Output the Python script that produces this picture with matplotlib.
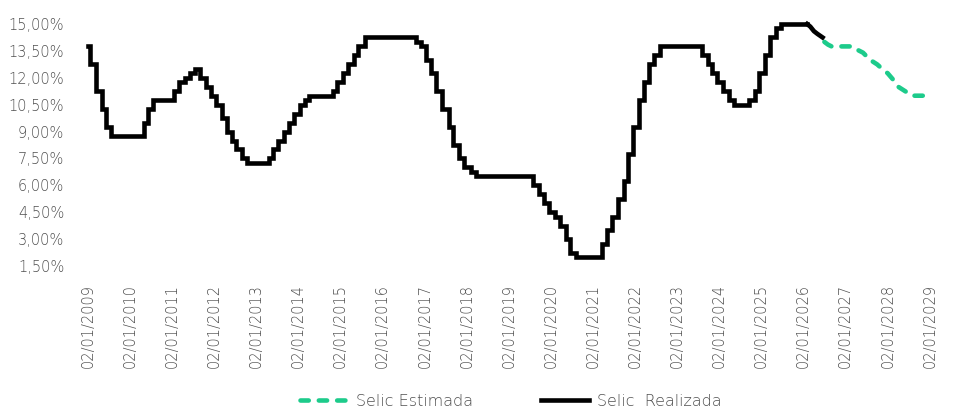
import matplotlib
matplotlib.use("Agg")
import matplotlib.pyplot as plt
import matplotlib.dates as mdates
from matplotlib.ticker import FuncFormatter, FixedLocator
import numpy as np
import pandas as pd

plt.rcParams['font.family'] = ['DejaVu Sans']
plt.rcParams['font.weight'] = 200

# Copom decisions (date in effect, Selic target %)
realized_dates = [
    "2009-01-02", "2009-01-22", "2009-03-12", "2009-04-30", "2009-06-11", "2009-07-23",
    "2010-04-29", "2010-06-10", "2010-07-22",
    "2011-01-20", "2011-03-03", "2011-04-21", "2011-06-09", "2011-07-21", "2011-09-01",
    "2011-10-20", "2011-12-01",
    "2012-01-19", "2012-03-08", "2012-04-19", "2012-05-31", "2012-07-12", "2012-08-30",
    "2012-10-11",
    "2013-04-18", "2013-05-30", "2013-07-11", "2013-08-29", "2013-10-10", "2013-11-28",
    "2014-01-16", "2014-02-27", "2014-04-03", "2014-10-30", "2014-12-04",
    "2015-01-22", "2015-03-05", "2015-04-30", "2015-06-04", "2015-07-30",
    "2016-10-20", "2016-12-01",
    "2017-01-12", "2017-02-23", "2017-04-13", "2017-06-01", "2017-07-27", "2017-09-07",
    "2017-10-26", "2017-12-07",
    "2018-02-08", "2018-03-22",
    "2019-08-01", "2019-09-19", "2019-10-31", "2019-12-12",
    "2020-02-06", "2020-03-19", "2020-05-07", "2020-06-18", "2020-08-06",
    "2021-03-18", "2021-05-06", "2021-06-17", "2021-08-05", "2021-09-23", "2021-10-28",
    "2021-12-09",
    "2022-02-03", "2022-03-17", "2022-05-05", "2022-06-16", "2022-08-04",
    "2023-08-03", "2023-09-21", "2023-11-02", "2023-12-14",
    "2024-02-01", "2024-03-21", "2024-05-09", "2024-09-19", "2024-11-07", "2024-12-12",
    "2025-01-30", "2025-03-20", "2025-05-08", "2025-06-19", "2026-02-01",
]
realized_values = [
    13.75, 12.75, 11.25, 10.25, 9.25, 8.75,
    9.50, 10.25, 10.75,
    11.25, 11.75, 12.00, 12.25, 12.50, 12.00,
    11.50, 11.00,
    10.50, 9.75, 9.00, 8.50, 8.00, 7.50,
    7.25,
    7.50, 8.00, 8.50, 9.00, 9.50, 10.00,
    10.50, 10.75, 11.00, 11.25, 11.75,
    12.25, 12.75, 13.25, 13.75, 14.25,
    14.00, 13.75,
    13.00, 12.25, 11.25, 10.25, 9.25, 8.25,
    7.50, 7.00,
    6.75, 6.50,
    6.00, 5.50, 5.00, 4.50,
    4.25, 3.75, 3.00, 2.25, 2.00,
    2.75, 3.50, 4.25, 5.25, 6.25, 7.75,
    9.25,
    10.75, 11.75, 12.75, 13.25, 13.75,
    13.25, 12.75, 12.25, 11.75,
    11.25, 10.75, 10.50, 10.75, 11.25, 12.25,
    13.25, 14.25, 14.75, 15.00, 15.00,
]

# 2026 realized tail (monthly)
tail_dates = ["2026-02-01", "2026-03-01", "2026-04-01", "2026-05-01", "2026-06-15"]
tail_values = [15.00, 14.85, 14.60, 14.45, 14.25]

# estimated path
est_dates = [
    "2026-07-01", "2026-08-01", "2026-09-01", "2026-12-01", "2027-03-01", "2027-04-01",
    "2027-06-01", "2027-08-01", "2027-10-01", "2027-12-01", "2028-01-01", "2028-03-01",
    "2028-04-01", "2028-06-01", "2028-08-01", "2028-11-15",
]
est_values = [
    14.00, 13.85, 13.75, 13.75, 13.75, 13.60,
    13.40, 13.00, 12.75, 12.40, 12.25, 11.80,
    11.50, 11.25, 11.00, 11.00,
]

tick_years = list(range(2009, 2030))
y_ticks = [1.5, 3.0, 4.5, 6.0, 7.5, 9.0, 10.5, 12.0, 13.5, 15.0]

text_color = "#505050"
green = "#1DCB8B"

fig = plt.figure(figsize=(9.6, 4.18), dpi=100)
ax = fig.add_axes([88 / 960, 1 - 266 / 418, (930 - 88) / 960, (266 - 24) / 418])

rd = pd.to_datetime(realized_dates)
ax.plot(rd, realized_values, drawstyle="steps-post", color="black", lw=3.3,
        solid_joinstyle="miter", clip_on=False, label="Selic  Realizada")
ax.plot(pd.to_datetime(tail_dates), tail_values, color="black", lw=3.3, clip_on=False)
ax.plot(pd.to_datetime(est_dates), est_values, color=green, lw=3.3, ls=(0, (1.8, 2.2)),
        dash_capstyle="round", clip_on=False, label="Selic Estimada")

ax.set_xlim(pd.Timestamp("2009-01-02"), pd.Timestamp("2029-01-02"))
ax.set_ylim(1.5, 15.0)

ax.xaxis.set_major_locator(FixedLocator(mdates.date2num(
    [pd.Timestamp(f"{y}-01-02") for y in tick_years])))
ax.xaxis.set_major_formatter(mdates.DateFormatter("%d/%m/%Y"))
ax.yaxis.set_major_locator(FixedLocator(y_ticks))
ax.yaxis.set_major_formatter(FuncFormatter(lambda v, p: f"{v:.2f}".replace(".", ",") + "%"))

for s in ax.spines.values():
    s.set_visible(False)
ax.tick_params(axis="both", length=0, labelsize=10.5, colors=text_color)
ax.tick_params(axis="x", pad=13, rotation=90)
ax.tick_params(axis="y", pad=17)

handles, labels = ax.get_legend_handles_labels()
order = [1, 0]
leg = fig.legend([handles[i] for i in order], [labels[i] for i in order],
                 loc="center", bbox_to_anchor=(0.532, 0.04), ncol=2, frameon=False,
                 prop={"size": 11.5, "weight": 200}, handlelength=3.0, columnspacing=4.3,
                 handletextpad=0.5)
for t in leg.get_texts():
    t.set_color(text_color)

fig.savefig("out.png", dpi=100)
